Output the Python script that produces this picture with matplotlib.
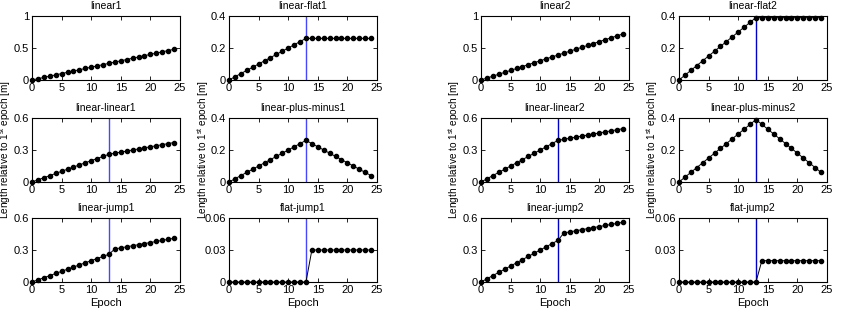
"""Synthetic length-change scenarios: two groups of six panels each."""

import matplotlib
matplotlib.use("Agg")
import matplotlib.pyplot as plt
from matplotlib.ticker import FuncFormatter

plt.rcParams["font.family"] = ["Liberation Sans", "DejaVu Sans"]
plt.rcParams["font.size"] = 7.5
plt.rcParams["mathtext.fontset"] = "custom"
plt.rcParams["mathtext.rm"] = "Liberation Sans"
plt.rcParams["mathtext.it"] = "Liberation Sans"

epochs = list(range(25))
break_epoch = 13

# group 1
linear1 = [0.00, 0.02, 0.04, 0.06, 0.08, 0.10, 0.12, 0.14, 0.16, 0.18, 0.20, 0.22, 0.24,
           0.26, 0.28, 0.30, 0.32, 0.34, 0.36, 0.38, 0.40, 0.42, 0.44, 0.46, 0.48]
linear_flat1 = [0.00, 0.02, 0.04, 0.06, 0.08, 0.10, 0.12, 0.14, 0.16, 0.18, 0.20, 0.22, 0.24,
                0.26, 0.26, 0.26, 0.26, 0.26, 0.26, 0.26, 0.26, 0.26, 0.26, 0.26, 0.26]
linear_linear1 = [0.00, 0.02, 0.04, 0.06, 0.08, 0.10, 0.12, 0.14, 0.16, 0.18, 0.20, 0.22, 0.24,
                  0.26, 0.27, 0.28, 0.29, 0.30, 0.31, 0.32, 0.33, 0.34, 0.35, 0.36, 0.37]
linear_plus_minus1 = [0.00, 0.02, 0.04, 0.06, 0.08, 0.10, 0.12, 0.14, 0.16, 0.18, 0.20, 0.22, 0.24,
                      0.26, 0.24, 0.22, 0.20, 0.18, 0.16, 0.14, 0.12, 0.10, 0.08, 0.06, 0.04]
linear_jump1 = [0.00, 0.02, 0.04, 0.06, 0.08, 0.10, 0.12, 0.14, 0.16, 0.18, 0.20, 0.22, 0.24,
                0.26, 0.31, 0.32, 0.33, 0.34, 0.35, 0.36, 0.37, 0.38, 0.39, 0.40, 0.41]
flat_jump1 = [0, 0, 0, 0, 0, 0, 0, 0, 0, 0, 0, 0, 0,
              0, 0.03, 0.03, 0.03, 0.03, 0.03, 0.03, 0.03, 0.03, 0.03, 0.03, 0.03]

# group 2
linear2 = [0.00, 0.03, 0.06, 0.09, 0.12, 0.15, 0.18, 0.21, 0.24, 0.27, 0.30, 0.33, 0.36,
           0.39, 0.42, 0.45, 0.48, 0.51, 0.54, 0.57, 0.60, 0.63, 0.66, 0.69, 0.72]
linear_flat2 = [0.00, 0.03, 0.06, 0.09, 0.12, 0.15, 0.18, 0.21, 0.24, 0.27, 0.30, 0.33, 0.36,
                0.39, 0.39, 0.39, 0.39, 0.39, 0.39, 0.39, 0.39, 0.39, 0.39, 0.39, 0.39]
linear_linear2 = [0.00, 0.03, 0.06, 0.09, 0.12, 0.15, 0.18, 0.21, 0.24, 0.27, 0.30, 0.33, 0.36,
                  0.39, 0.40, 0.41, 0.42, 0.43, 0.44, 0.45, 0.46, 0.47, 0.48, 0.49, 0.50]
linear_plus_minus2 = [0.00, 0.03, 0.06, 0.09, 0.12, 0.15, 0.18, 0.21, 0.24, 0.27, 0.30, 0.33, 0.36,
                      0.39, 0.36, 0.33, 0.30, 0.27, 0.24, 0.21, 0.18, 0.15, 0.12, 0.09, 0.06]
linear_jump2 = [0.00, 0.03, 0.06, 0.09, 0.12, 0.15, 0.18, 0.21, 0.24, 0.27, 0.30, 0.33, 0.36,
                0.39, 0.46, 0.47, 0.48, 0.49, 0.50, 0.51, 0.52, 0.53, 0.54, 0.55, 0.56]
flat_jump2 = [0, 0, 0, 0, 0, 0, 0, 0, 0, 0, 0, 0, 0,
              0, 0.02, 0.02, 0.02, 0.02, 0.02, 0.02, 0.02, 0.02, 0.02, 0.02, 0.02]

# (title, values, ymax, show break line) per panel, row-major within a group
group1 = [
    ("linear1", linear1, 1.0, False),
    ("linear-flat1", linear_flat1, 0.4, True),
    ("linear-linear1", linear_linear1, 0.6, True),
    ("linear-plus-minus1", linear_plus_minus1, 0.4, True),
    ("linear-jump1", linear_jump1, 0.6, True),
    ("flat-jump1", flat_jump1, 0.06, True),
]
group2 = [
    ("linear2", linear2, 1.0, False),
    ("linear-flat2", linear_flat2, 0.4, True),
    ("linear-linear2", linear_linear2, 0.6, True),
    ("linear-plus-minus2", linear_plus_minus2, 0.4, True),
    ("linear-jump2", linear_jump2, 0.6, True),
    ("flat-jump2", flat_jump2, 0.06, True),
]
break_colors = ["#4646ff", "#0000c8"]

W, H = 842, 310
col_left_px = [[32, 229], [481, 679]]
row_top_px = [16, 118, 218]
ax_w_px, ax_h_px = 148, 64
ylabel = r"Length relative to 1$^{st}$ epoch [m]"


def _fmt(v, _pos):
    return f"{v:g}"


def _panel(fig, left_px, top_px, title, values, ymax, show_break, color, bottom_row, with_ylabel):
    ax = fig.add_axes([left_px / W, 1 - (top_px + ax_h_px) / H, ax_w_px / W, ax_h_px / H])
    if show_break:
        ax.axvline(break_epoch, color=color, lw=1.0, zorder=1)
    ax.plot(epochs, values, color="black", lw=0.7, marker="o", ms=3.0, zorder=2, clip_on=False)
    ax.set_xlim(0, 25)
    ax.set_ylim(0, ymax)
    ax.set_xticks([0, 5, 10, 15, 20, 25])
    ax.set_yticks([0, ymax / 2, ymax])
    ax.yaxis.set_major_formatter(FuncFormatter(_fmt))
    ax.tick_params(direction="in", top=True, right=True, length=3, width=0.6, pad=2,
                   labelsize=8)
    for s in ax.spines.values():
        s.set_linewidth(0.8)
    ax.set_title(title, fontsize=7.5, pad=5)
    if bottom_row:
        ax.set_xlabel("Epoch", fontsize=8, labelpad=2)
    if with_ylabel:
        ax.set_ylabel(ylabel, fontsize=7.2)
        ax.yaxis.set_label_coords(-0.125, 0.5)
    return ax


fig = plt.figure(figsize=(W / 100, H / 100), dpi=100)
for g, panels in enumerate([group1, group2]):
    for i, (title, values, ymax, show_break) in enumerate(panels):
        r, c = divmod(i, 2)
        _panel(fig, col_left_px[g][c], row_top_px[r], title, values, ymax, show_break,
               break_colors[g], bottom_row=(r == 2), with_ylabel=(r == 1))

fig.savefig("out.png", dpi=100)
